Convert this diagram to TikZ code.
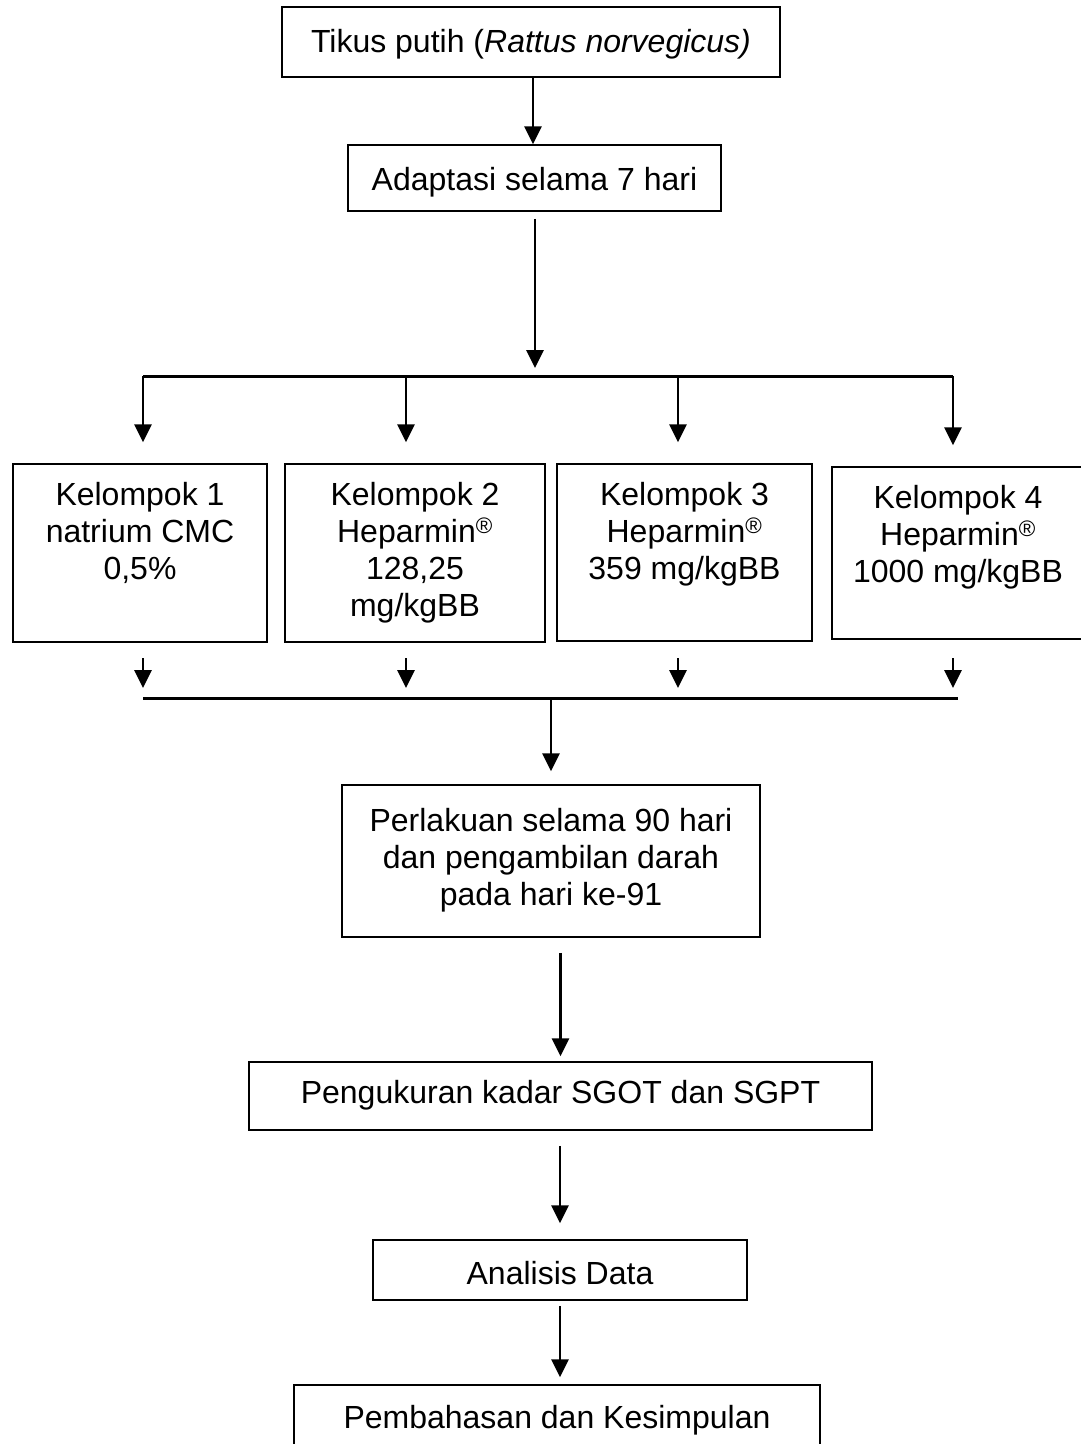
\documentclass[tikz,border=0pt]{standalone}
\usepackage{fontspec}
\setmainfont{Liberation Sans}
\usetikzlibrary{arrows.meta}
\begin{document}
\begin{tikzpicture}[x=1pt,y=-1pt,
  box/.style={draw, line width=1.5pt, inner sep=0pt, align=center, font=\fontsize{32}{37}\selectfont},
  txt/.style={inner sep=0pt, align=center, anchor=north, font=\fontsize{32}{37}\selectfont},
  arr/.style={line width=2.8pt, -{Triangle[width=17pt,length=18pt]}},
  bus/.style={line width=3pt}]
\useasboundingbox (0,0) rectangle (1081,1444);
\fill[white] (0,0) rectangle (1081,1444);
% top boxes
\node[box, minimum width=498pt, minimum height=70pt] (tikus) at (531,42) {};
\node[txt, anchor=center] (tikust) at (531,44) {Tikus putih (\textit{Rattus norvegicus)}};
\node[box, minimum width=373pt, minimum height=66pt] (adapt) at (534.5,178) {};
\node[txt, anchor=center] (adaptt) at (534.5,182) {Adaptasi selama 7 hari};
% upper bus
\coordinate (ub0) at (535,376);
\coordinate (ub1) at (143,376);
\coordinate (ub2) at (406,376);
\coordinate (ub3) at (678,376);
\coordinate (ub4) at (953,376);
% group boxes
\node[box, minimum width=254pt, minimum height=178pt] (k1) at (140,553) {};
\node[box, minimum width=260pt, minimum height=178pt] (k2) at (415,553) {};
\node[box, minimum width=255pt, minimum height=177pt] (k3) at (684.5,552.5) {};
\node[box, minimum width=260pt, minimum height=172pt] (k4) at (962,553) {};
\node[txt] (k1t) at ([yshift=-19pt]k1.north) {Kelompok 1\\natrium CMC\\0,5\%};
\node[txt] (k2t) at ([yshift=-19pt]k2.north) {Kelompok 2\\Heparmin\textsuperscript{®}\\128,25\\mg/kgBB};
\node[txt] (k3t) at ([yshift=-19pt]k3.north) {Kelompok 3\\Heparmin\textsuperscript{®}\\359 mg/kgBB};
\node[txt] (k4t) at (958,485) {Kelompok 4\\Heparmin\textsuperscript{®}\\1000 mg/kgBB};
% lower bus
\coordinate (lb1) at (143,698);
\coordinate (lb4) at (958,698);
\coordinate (lb0) at (551,698);
\coordinate (s1) at (143,658);
\coordinate (s2) at (406,658);
\coordinate (s3) at (678,658);
\coordinate (s4) at (953,658);
% lower boxes
\node[box, minimum width=418pt, minimum height=152pt] (perl) at (551,861) {};
\node[txt] (perlt) at ([yshift=-24pt]perl.north) {Perlakuan selama 90 hari\\dan pengambilan darah\\pada hari ke-91};
\node[box, minimum width=623pt, minimum height=68pt] (ukur) at (560.5,1096) {};
\node[txt, anchor=center] (ukurt) at (560.5,1095) {Pengukuran kadar SGOT dan SGPT};
\node[box, minimum width=374pt, minimum height=60pt] (anal) at (560,1270) {};
\node[txt, anchor=center] (analt) at (560,1273) {Analisis Data};
\node[box, minimum width=526pt, minimum height=80pt] (bahas) at (557,1425) {};
\node[txt] (bahast) at (557,1405) {Pembahasan dan Kesimpulan};
% connectors
\draw[arr] (tikus.south -| ub0) ++(-2,0) coordinate (ta) -- (ta |- adapt.north);
\draw[arr, shorten <=7pt, shorten >=8pt] (adapt.south -| ub0) -- (ub0);
\draw[bus] (ub1) -- (ub4);
\foreach \i/\k in {1/k1,2/k2,3/k3,4/k4}{
  \draw[arr, shorten >=21pt] (ub\i) -- (ub\i |- \k.north);
  \draw[arr, shorten >=10pt] (s\i) -- (s\i |- lb1);
}
\draw[bus] (lb1) -- (lb4);
\draw[arr, shorten >=13pt] (lb0) -- (perl.north);
\draw[arr, shorten <=15pt, shorten >=5pt] (perl.south -| ukur.north) -- (ukur.north);
\draw[arr, shorten <=15pt, shorten >=16pt] (ukur.south -| anal.north) -- (anal.north);
\draw[arr, shorten <=5pt, shorten >=7pt] (anal.south) -- (anal.south |- bahas.north);
\end{tikzpicture}
\end{document}
